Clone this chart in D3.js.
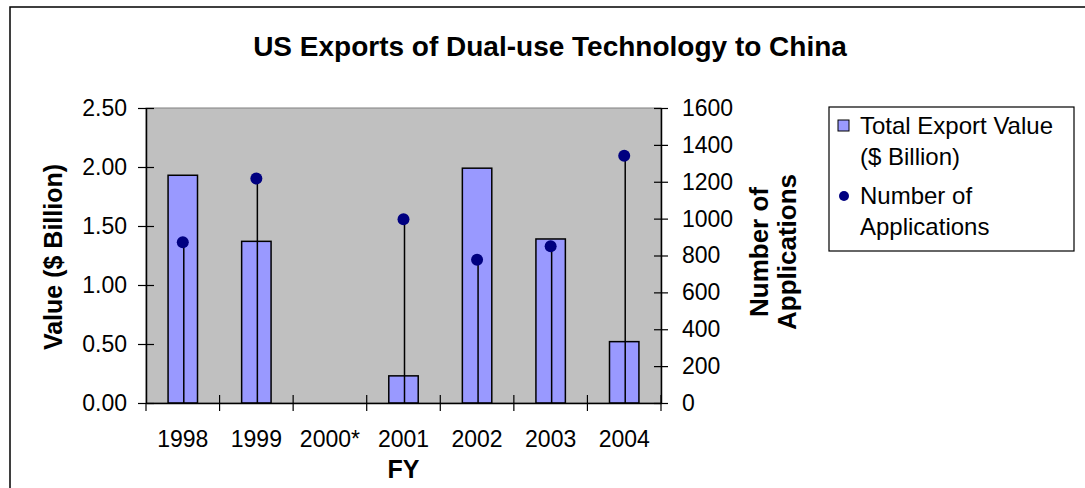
<!DOCTYPE html>
<html>
<head>
<meta charset="utf-8">
<script src="https://cdn.jsdelivr.net/npm/d3@7"></script>
<style>
  body { margin: 0; background: #fff; }
  svg { display: block; font-family: "Liberation Sans", Arial, sans-serif; }
</style>
</head>
<body>
<svg id="chart" width="1085" height="488"></svg>
<script>
// data
const years = ["1998", "1999", "2000*", "2001", "2002", "2003", "2004"];
const exportValue = [1.93, 1.37, null, 0.23, 1.99, 1.39, 0.52];
const applications = [872, 1217, null, 996, 777, 850, 1341];
const leftTicks = [0, 0.5, 1, 1.5, 2, 2.5];
const rightTicks = [0, 200, 400, 600, 800, 1000, 1200, 1400, 1600];

const svg = d3.select("#chart");
const plot = { left: 146, right: 661, top: 108, bottom: 403 };

// outer chart border (runs off right/bottom edge)
svg.append("rect")
  .attr("x", 10).attr("y", 7)
  .attr("width", 1100).attr("height", 500)
  .attr("fill", "#fff").attr("stroke", "#000").attr("stroke-width", 1.5);

const x = d3.scaleBand().domain(years).range([plot.left, plot.right]);
const yL = d3.scaleLinear().domain([0, 2.5]).range([plot.bottom, plot.top]);
const yR = d3.scaleLinear().domain([0, 1600]).range([plot.bottom, plot.top]);

// plot area
svg.append("rect")
  .attr("x", plot.left).attr("y", plot.top)
  .attr("width", plot.right - plot.left).attr("height", plot.bottom - plot.top)
  .attr("fill", "#c0c0c0").attr("stroke", "#808080").attr("stroke-width", 1);

// bars
const barW = x.bandwidth() * 0.4;
svg.append("g").selectAll("rect")
  .data(years.map((y, i) => ({ year: y, v: exportValue[i] })).filter(d => d.v != null))
  .join("rect")
  .attr("x", d => x(d.year) + (x.bandwidth() - barW) / 2)
  .attr("y", d => yL(d.v))
  .attr("width", barW)
  .attr("height", d => yL(0) - yL(d.v))
  .attr("fill", "#9999ff")
  .attr("stroke", "#000").attr("stroke-width", 1.5);

// drop lines + dots
const pts = years.map((y, i) => ({ year: y, n: applications[i] })).filter(d => d.n != null);
svg.append("g").selectAll("line")
  .data(pts)
  .join("line")
  .attr("x1", d => x(d.year) + x.bandwidth() / 2 + 1)
  .attr("x2", d => x(d.year) + x.bandwidth() / 2 + 1)
  .attr("y1", d => yR(d.n))
  .attr("y2", yR(0))
  .attr("stroke", "#000").attr("stroke-width", 1.5);
svg.append("g").selectAll("circle")
  .data(pts)
  .join("circle")
  .attr("cx", d => x(d.year) + x.bandwidth() / 2)
  .attr("cy", d => yR(d.n))
  .attr("r", 6)
  .attr("fill", "#000080");

// axes
const leftAxis = svg.append("g")
  .attr("transform", `translate(${plot.left},0)`)
  .call(d3.axisLeft(yL).tickValues(leftTicks).tickFormat(d3.format(".2f")).tickSizeInner(8).tickSizeOuter(0).tickPadding(11));
const rightAxis = svg.append("g")
  .attr("transform", `translate(${plot.right},0)`)
  .call(d3.axisRight(yR).tickValues(rightTicks).tickFormat(d3.format("d")).tickSizeInner(8).tickSizeOuter(0).tickPadding(13));
const bottomAxis = svg.append("g")
  .attr("transform", `translate(0,${plot.bottom})`)
  .call(d3.axisBottom(x).tickSize(0).tickSizeOuter(0).tickPadding(44));

[leftAxis, rightAxis, bottomAxis].forEach(g => {
  g.select(".domain").attr("stroke", "#000").attr("stroke-width", 1.5);
  g.selectAll("text").attr("font-size", 23).attr("fill", "#000")
    .attr("font-family", "Liberation Sans, Arial, sans-serif");
});
// ticks cross the axis lines
leftAxis.selectAll(".tick line").attr("x1", -8).attr("x2", 8).attr("stroke", "#000").attr("stroke-width", 1.2);
rightAxis.selectAll(".tick line").attr("x1", -7).attr("x2", 7).attr("stroke", "#000").attr("stroke-width", 1.2);
bottomAxis.selectAll(".tick text").attr("dy", "0em");

// x category separators
svg.append("g").selectAll("line")
  .data(years.slice(1).concat(["end"]))
  .join("line")
  .attr("x1", (d, i) => plot.left + x.step() * (i + 1))
  .attr("x2", (d, i) => plot.left + x.step() * (i + 1))
  .attr("y1", plot.bottom - 8).attr("y2", plot.bottom + 8)
  .attr("stroke", "#000").attr("stroke-width", 1.2);
svg.append("line")
  .attr("x1", plot.left).attr("x2", plot.left)
  .attr("y1", plot.bottom).attr("y2", plot.bottom + 8)
  .attr("stroke", "#000").attr("stroke-width", 1.2);

// titles
svg.append("text")
  .attr("x", 550).attr("y", 56)
  .attr("text-anchor", "middle")
  .attr("font-size", 28).attr("font-weight", "bold")
  .text("US Exports of Dual-use Technology to China");

svg.append("text")
  .attr("x", (plot.left + plot.right) / 2).attr("y", 478)
  .attr("text-anchor", "middle")
  .attr("font-size", 25).attr("font-weight", "bold")
  .text("FY");

svg.append("text")
  .attr("transform", "translate(62,257) rotate(-90)")
  .attr("text-anchor", "middle")
  .attr("font-size", 25).attr("font-weight", "bold")
  .text("Value ($ Billion)");

const rt = svg.append("text")
  .attr("transform", "translate(768,252) rotate(-90)")
  .attr("text-anchor", "middle")
  .attr("font-size", 26).attr("font-weight", "bold");
rt.append("tspan").attr("x", 0).attr("dy", 0).text("Number of");
rt.append("tspan").attr("x", 0).attr("dy", 28).text("Applications");

// legend
const lg = svg.append("g");
lg.append("rect")
  .attr("x", 829).attr("y", 107).attr("width", 245).attr("height", 144)
  .attr("fill", "#fff").attr("stroke", "#000").attr("stroke-width", 1.2);
lg.append("rect")
  .attr("x", 838).attr("y", 120).attr("width", 11).attr("height", 11)
  .attr("fill", "#9999ff").attr("stroke", "#000").attr("stroke-width", 1);
lg.append("circle")
  .attr("cx", 844).attr("cy", 196).attr("r", 5)
  .attr("fill", "#000080");
const lt = lg.append("g").attr("font-size", 24);
[["Total Export Value", 134], ["($ Billion)", 165], ["Number of", 204], ["Applications", 235]]
  .forEach(([t, yy]) => lt.append("text").attr("x", 860).attr("y", yy).text(t));
</script>
</body>
</html>
